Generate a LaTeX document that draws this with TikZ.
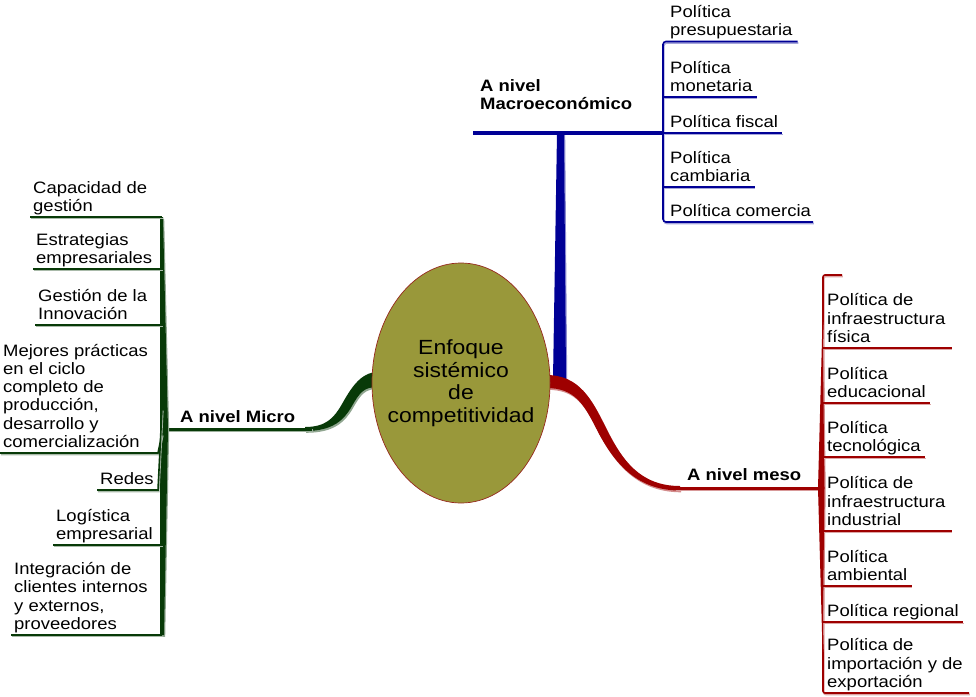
\documentclass[tikz,border=0pt]{standalone}
\usepackage{fontspec}
\setmainfont{Liberation Sans}[FakeStretch=1.12]
\usetikzlibrary{shapes.geometric}

\definecolor{mblue}{RGB}{0,0,150}
\definecolor{mred}{RGB}{158,0,0}
\definecolor{mgreen}{RGB}{8,58,8}
\definecolor{hubfill}{RGB}{153,152,58}
\definecolor{hubline}{RGB}{150,40,30}

\tikzset{
  item/.style={font=\fontsize{16.5}{18.2}\selectfont, align=left, inner sep=0pt,
    anchor=south west, execute at end node=\strut},
  branchlabel/.style={font=\fontsize{16.5}{18.2}\selectfont\bfseries, align=left, inner sep=0pt},
  ulbase/.style={line width=1.6pt, preaction={draw=#1!35, line width=1.6pt,
    transform canvas={shift={(0.8,1.5)}}}, draw=#1},
  ublue/.style={ulbase=mblue},
  ured/.style={ulbase=mred},
  ugreen/.style={ulbase=mgreen},
  limb/.style={fill=#1, preaction={fill=#1!45, transform canvas={shift={(1.2,1.8)}}}},
  stem/.style={line width=3pt, preaction={draw=#1!40, line width=3pt,
    transform canvas={shift={(0.8,1.6)}}}, draw=#1},
}

\begin{document}
\begin{tikzpicture}[x=1pt,y=-1pt]
\useasboundingbox (0,0) rectangle (976,696);

% ---------- junction points of the three branches ----------
\coordinate (gJ) at (162,429);
\coordinate (bJ) at (663,133);
\coordinate (bL) at (473,133);
\coordinate (rJ) at (822,488);
\coordinate (rT) at (823,275);
\coordinate (microEnd) at (312,429);
\coordinate (mesoEnd) at (675,488);

% ---------- macro level (blue) ----------
\path[limb=mblue] (557,133) -- (564,133) -- (566,379) -- (553,379) -- cycle;
\draw[ublue, line width=4.5pt] (bL) -- (bJ);
\node[branchlabel, anchor=south west, execute at end node=\strut] (macro) at (480,115) {A nivel\\Macroeconómico};

\node[item] (p1) at (670,41.5) {Política\\presupuestaria};
\node[item] (p2) at (670,97)   {Política\\monetaria};
\node[item] (p3) at (670,133)  {Política fiscal};
\node[item] (p4) at (670,187)  {Política\\cambiaria};
\node[item] (p5) at (670,222)  {Política comercia};

\draw[ublue, rounded corners=3pt] ([xshift=5pt]p1.south east) -- (p1.south west -| bJ)
  -- (p5.south west -| bJ) -- ([xshift=2pt]p5.south east);
\draw[ublue] (p2.south west -| bJ) -- ([xshift=4pt]p2.south east);
\draw[ublue] (bJ) -- ([xshift=4pt]p3.south east);
\draw[ublue] (p4.south west -| bJ) -- ([xshift=4pt]p4.south east);

% ---------- meso level (red) ----------
\path[limb=mred] (546,375) .. controls (580,375) and (592,400) .. (606,428)
  .. controls (622,460) and (640,486) .. (680,486)
  -- (680,490.5) .. controls (636,490.5) and (614,462) .. (598,432)
  .. controls (584,404) and (575,388) .. (546,388) -- cycle;
\draw[stem=mred] (mesoEnd) -- (rJ);
\node[branchlabel, anchor=base west] (meso) at (687,480) {A nivel meso};

\node[item] (m1) at (827,348) {Política de\\infraestructura\\física};
\node[item] (m2) at (827,403) {Política\\educacional};
\node[item] (m3) at (827,457) {Política\\tecnológica};
\node[item] (m4) at (827,531) {Política de\\infraestructura\\industrial};
\node[item] (m5) at (827,586) {Política\\ambiental};
\node[item] (m6) at (827,622) {Política regional};
\node[item] (m7) at (827,693) {Política de\\importación y de\\exportación};

\draw[ured, rounded corners=2pt] ([xshift=19pt]rT) -- (rT) -- (m7.south west -| rT)
  -- ([xshift=6pt]m7.south east);
\path[limb=mred] (822.5,320) -- (818,488) -- (822.5,650) -- (824.5,488) -- cycle;
\draw[ured] (m1.south west -| rT) -- ([xshift=6pt]m1.south east);
\draw[ured] (m2.south west -| rT) -- ([xshift=4pt]m2.south east);
\draw[ured] (m3.south west -| rT) -- ([xshift=4pt]m3.south east);
\draw[ured] (m4.south west -| rT) -- ([xshift=6pt]m4.south east);
\draw[ured] (m5.south west -| rT) -- ([xshift=4pt]m5.south east);
\draw[ured] (m6.south west -| rT) -- ([xshift=4pt]m6.south east);

% ---------- micro level (green) ----------
\path[limb=mgreen] (378,372) .. controls (360,372) and (350,390) .. (342,404)
  .. controls (334,418) and (326,427) .. (305,427)
  -- (305,431) .. controls (333,431) and (344,420) .. (352,406)
  .. controls (360,392) and (364,387) .. (378,387) -- cycle;
\draw[stem=mgreen] (gJ) -- (microEnd);
\node[branchlabel, anchor=base west] (micro) at (180,422) {A nivel Micro};

\node[item] (c1) at (33,217) {Capacidad de\\gestión};
\node[item] (c2) at (36,269) {Estrategias\\empresariales};
\node[item] (c3) at (38,325) {Gestión de la\\Innovación};
\node[item] (c4) at (3,453)  {Mejores prácticas\\en el ciclo\\completo de\\producción,\\desarrollo y\\comercialización};
\node[item] (c5) at (100,490) {Redes};
\node[item] (c6) at (56,545) {Logística\\empresarial};
\node[item] (c7) at (14,635) {Integración de\\clientes internos\\y externos,\\proveedores};

\draw[ugreen] (c1.south west -| gJ) -- (c7.south west -| gJ);
\path[limb=mgreen] (160,217) -- (163,217) -- (168,429) -- (164,635) -- (160,635) -- (160,429) -- cycle;
\draw[ugreen] ([xshift=-3pt]c1.south west) -- (c1.south west -| gJ);
\draw[ugreen] ([xshift=-3pt]c2.south west) -- (c2.south west -| gJ);
\draw[ugreen] ([xshift=-3pt]c3.south west) -- (c3.south west -| gJ);
\draw[ugreen] ([xshift=-3pt]c4.south west) -- ([xshift=-4pt]c4.south west -| gJ) -- ([yshift=-5pt]gJ);
\draw[ugreen] ([xshift=-3pt]c5.south west) -- ([xshift=-4pt]c5.south west -| gJ) -- ([yshift=20pt]gJ);
\draw[ugreen] ([xshift=-3pt]c6.south west) -- (c6.south west -| gJ);
\draw[ugreen] ([xshift=-3pt]c7.south west) -- (c7.south west -| gJ);

% ---------- central topic ----------
\node[ellipse, draw=hubline, line width=0.7pt, fill=hubfill, minimum width=178pt,
  minimum height=240pt, inner sep=0pt] (hub) at (461,383) {};
\node[align=center, inner sep=0pt, font=\fontsize{20.5}{22.5}\selectfont] (hubtext)
  at (hub.center) {Enfoque\\sistémico\\de\\competitividad};
\end{tikzpicture}
\end{document}
